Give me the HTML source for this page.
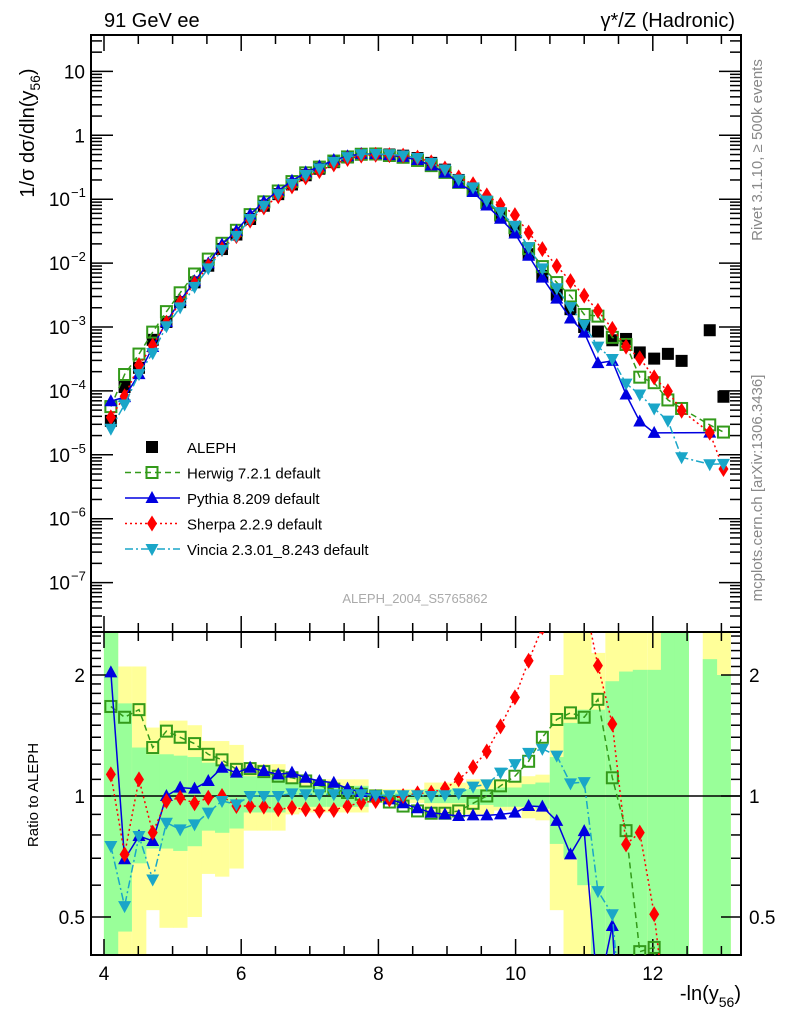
<!DOCTYPE html>
<html><head><meta charset="utf-8">
<style>
html,body{margin:0;padding:0;background:#fff;width:786px;height:1024px;overflow:hidden;}
svg{display:block;font-family:"Liberation Sans",sans-serif;}
</style></head>
<body>
<svg id="chart" width="786" height="1024" viewBox="0 0 786 1024" xmlns="http://www.w3.org/2000/svg">
<defs>
<clipPath id="clipTop"><rect x="91" y="35" width="650" height="597"/></clipPath>
<clipPath id="clipBot"><rect x="91" y="632" width="650" height="323"/></clipPath>
</defs>
<g id="bands" clip-path="url(#clipBot)"></g>
<g id="axes"></g>
<g id="topMarks" clip-path="url(#clipTop)"></g>
<g id="botMarks" clip-path="url(#clipBot)"></g>
<g id="legend"></g>
<text x="104" y="27" font-size="20">91 GeV ee</text>
<text x="735" y="27" font-size="20" text-anchor="end">γ*/Z (Hadronic)</text>
<text transform="translate(34,133) rotate(-90)" font-size="20" text-anchor="middle">1/σ  dσ/dln(y<tspan font-size="14" dy="6">56</tspan><tspan dy="-6">)</tspan></text>
<text transform="translate(762,150) rotate(-90)" font-size="15" fill="#888" text-anchor="middle">Rivet 3.1.10, ≥ 500k events</text>
<text transform="translate(762,488) rotate(-90)" font-size="15" fill="#888" text-anchor="middle">mcplots.cern.ch [arXiv:1306.3436]</text>
<text x="415" y="603" font-size="13" fill="#aaa" text-anchor="middle">ALEPH_2004_S5765862</text>
<text transform="translate(38,795) rotate(-90)" font-size="15" text-anchor="middle">Ratio to ALEPH</text>
<text x="741" y="1000" font-size="20" text-anchor="end">-ln(y<tspan font-size="14" dy="7">56</tspan><tspan dy="-7">)</tspan></text>
</svg>
<script>
const xCenters=[4.10,4.30,4.51,4.71,4.91,5.11,5.32,5.52,5.72,5.93,6.13,6.33,6.54,6.74,6.94,7.14,7.35,7.55,7.75,7.96,8.16,8.36,8.57,8.77,8.97,9.17,9.38,9.58,9.78,9.99,10.19,10.39,10.60,10.80,11.00,11.20,11.41,11.61,11.81,12.02,12.22,12.42,12.63,12.83,13.03];
const aleph=[3.4e-5,1.15e-4,2.3e-4,6.3e-4,1.2e-3,2.45e-3,5.0e-3,9.1e-3,1.66e-2,2.8e-2,4.9e-2,7.9e-2,0.12,0.17,0.237,0.30,0.38,0.45,0.50,0.51,0.50,0.48,0.44,0.37,0.29,0.20,0.145,0.089,0.055,0.032,0.0138,6.3e-3,3.2e-3,1.9e-3,1.0e-3,8.5e-4,6.2e-4,6.5e-4,4.0e-4,3.2e-4,3.8e-4,2.95e-4,null,8.9e-4,8.1e-5];
const herwigRatio=[1.67,1.57,1.64,1.32,1.45,1.40,1.35,1.27,1.23,1.165,1.17,1.15,1.12,1.11,1.09,1.06,1.04,1.02,1.01,1.0,0.966,0.944,0.918,0.906,0.906,0.918,0.959,1.0,1.06,1.12,1.22,1.40,1.55,1.61,1.57,1.74,1.11,0.82,0.41,0.42,0.19,0.18,null,0.033,0.28];
const pythiaRatio=[2.03,0.696,0.795,0.773,1.0,1.049,1.043,1.09,1.176,1.143,1.176,1.154,1.132,1.143,1.11,1.09,1.079,1.043,1.023,1.0,0.981,0.959,0.932,0.909,0.9,0.892,0.895,0.895,0.9,0.909,0.944,0.941,0.867,0.716,0.818,0.32,0.475,0.135,0.083,0.069,null,null,null,0.025,null];
const sherpaRatio=[1.132,0.716,1.10,0.811,0.972,0.99,0.959,0.99,1.0,0.944,0.944,0.941,0.927,0.935,0.927,0.918,0.923,0.944,0.963,0.972,0.981,1.0,1.015,1.019,1.043,1.10,1.18,1.29,1.49,1.76,2.17,2.63,2.82,2.75,3.1,2.11,1.51,0.758,0.811,0.508,0.26,0.166,null,0.025,0.074];
const vinciaRatio=[0.751,0.532,0.795,0.62,0.858,0.826,0.85,0.909,0.972,0.953,1.0,1.0,1.0,1.015,1.01,1.01,1.01,1.01,1.01,1.004,1.004,1.004,1.004,1.0,1.004,1.015,1.055,1.069,1.143,1.2,1.28,1.31,1.26,1.075,1.083,0.58,0.508,0.2,0.22,0.166,0.09,0.031,null,0.008,0.089];
const greenHi=[3,1.7,1.32,1.27,1.27,1.26,1.25,1.21,1.19,1.14,1.12,1.12,1.12,1.08,1.06,1.06,1.06,1.06,1.06,1.02,1.02,1.02,1.02,1.04,1.04,1.04,1.04,1.04,1.05,1.05,1.07,1.08,1.25,1.52,1.64,1.64,1.93,2.04,2.06,2.06,3,3,null,2.19,2.0];
const greenLo=[0.3,0.46,0.68,0.74,0.74,0.73,0.75,0.82,0.81,0.83,0.91,0.91,0.91,0.94,0.94,0.94,0.94,0.94,0.94,0.98,0.98,0.98,0.98,0.96,0.96,0.96,0.95,0.95,0.94,0.94,0.94,0.93,0.76,0.7,0.6,0.3,0.3,0.3,0.3,0.3,0.3,0.3,null,0.3,0.3];
const yellowHi=[3,2.1,2.1,1.48,1.54,1.54,1.5,1.37,1.37,1.34,1.2,1.2,1.2,1.14,1.1,1.1,1.1,1.1,1.1,1.04,1.04,1.04,1.04,1.08,1.08,1.08,1.1,1.1,1.09,1.09,1.12,1.13,2.0,3,3,2.27,3,3,3,3,3,3,null,3,3];
const yellowLo=[0.3,0.4,0.4,0.52,0.47,0.47,0.5,0.64,0.63,0.66,0.82,0.82,0.82,0.9,0.91,0.91,0.91,0.91,0.91,0.96,0.96,0.96,0.96,0.9,0.9,0.9,0.9,0.9,0.92,0.92,0.88,0.87,0.52,0.3,0.3,0.3,0.3,0.3,0.3,0.3,0.3,0.3,null,0.3,0.3];
const topTickLabels=["10","1","10","10","10","10","10","10","10"];
const topTickExps=[1,0,-1,-2,-3,-4,-5,-6,-7];
const xTickLabels=[4,6,8,10,12];
const ratioTickLabels=[2,1,0.5];

const NS="http://www.w3.org/2000/svg";
const binW=0.2029;
function X(v){return 104+(v-4)*68.6;}
function YT(v){return 135.3-63.9*Math.log10(v);}
function YR(r){return 796-121*Math.log2(r);}
function mk(tag,attrs,parent){const e=document.createElementNS(NS,tag);for(const k in attrs)e.setAttribute(k,attrs[k]);parent.appendChild(e);return e;}

const axes=document.getElementById('axes');
let f1=mk('rect',{x:91,y:35,width:650,height:597,fill:'none',stroke:'#000','stroke-width':2},axes);


let f2=mk('rect',{x:91,y:632,width:650,height:323,fill:'none',stroke:'#000','stroke-width':2},axes);


for(let v=4;v<=13.25;v+=0.5){
  const x=X(v);const major=(Math.abs(v%2)<1e-6);const L=major?16:9;
  [[35,1],[632,-1],[632,1],[955,-1]].forEach(([y,d])=>{mk('line',{x1:x,x2:x,y1:y,y2:y+d*L,stroke:'#000','stroke-width':1.5},axes);});
}
xTickLabels.forEach(v=>{const t=mk('text',{x:X(v),y:980,'font-size':19,'text-anchor':'middle'},axes);t.textContent=v;

});
for(let e=-8;e<=1;e++){
  for(let m=1;m<10;m++){
    const v=m*Math.pow(10,e);const y=YT(v);if(y<35||y>632)continue;
    const L=m===1?22:11;
    mk('line',{x1:91,x2:91+L,y1:y,y2:y,stroke:'#000','stroke-width':1.5},axes);
    mk('line',{x1:741,x2:741-L,y1:y,y2:y,stroke:'#000','stroke-width':1.5},axes);
  }
}
topTickExps.forEach((e,i)=>{
  const y=YT(Math.pow(10,e))+7;
  const t=mk('text',{x:e<0?70:85,y:y,'font-size':19,'text-anchor':'end'},axes);
  
  
  t.textContent=topTickLabels[i];
  if(e<0){const s=mk('text',{x:71,y:y-9,'font-size':13},axes);s.textContent='−'+(-e);
  
  }
});
[0.4,0.5,0.6,0.7,0.8,0.9,1,1.1,1.2,1.3,1.4,1.5,1.6,1.7,1.8,1.9,2,2.1,2.2,2.3,2.4,2.5].forEach(r=>{
  const y=YR(r);if(y<632||y>955)return;const major=(r===0.5||r===1||r===2);const L=major?20:10;
  mk('line',{x1:91,x2:91+L,y1:y,y2:y,stroke:'#000','stroke-width':1.5},axes);
  mk('line',{x1:741,x2:741-L,y1:y,y2:y,stroke:'#000','stroke-width':1.5},axes);
});
ratioTickLabels.forEach(r=>{
  const a=mk('text',{x:85,y:YR(r)+7,'font-size':19,'text-anchor':'end'},axes);a.textContent=r;
  
  
  const b=mk('text',{x:749,y:YR(r)+7,'font-size':19},axes);b.textContent=r;
  
  
});

const bands=document.getElementById('bands');
function band(lo,hi,col,name){
  xCenters.forEach((xc,i)=>{
    if(hi[i]==null)return;
    const x0=X(xc-binW/2),x1=X(xc+binW/2);
    const y0=YR(hi[i]),y1=YR(lo[i]);
    const r=mk('rect',{x:x0,y:y0,width:x1-x0+0.4,height:y1-y0,fill:col},bands);
    
    
  });
}
band(yellowLo,yellowHi,'#ffff99','syst-band');
band(greenLo,greenHi,'#99ff99','stat-band');
const one=mk('line',{x1:91,x2:741,y1:YR(1),y2:YR(1),stroke:'#000','stroke-width':1.5},axes);



function marker(type,x,y,col,parent,name){
  let e;
  if(type==='sq')e=mk('rect',{x:x-6,y:y-6,width:12,height:12,fill:col},parent);
  else if(type==='osq')e=mk('rect',{x:x-5.5,y:y-5.5,width:11,height:11,fill:'none',stroke:col,'stroke-width':2},parent);
  else if(type==='tri')e=mk('polygon',{points:`${x},${y-7} ${x-6.5},${y+5} ${x+6.5},${y+5}`,fill:col},parent);
  else if(type==='dia')e=mk('polygon',{points:`${x},${y-8} ${x-5},${y} ${x},${y+8} ${x+5},${y}`,fill:col},parent);
  else e=mk('polygon',{points:`${x},${y+7} ${x-6.5},${y-5} ${x+6.5},${y-5}`,fill:col},parent);
  
  
  return e;
}
const series=[
 {name:'herwig',ratio:herwigRatio,col:'#339a1a',type:'osq',dash:'6,4'},
 {name:'pythia',ratio:pythiaRatio,col:'#0000e0',type:'tri',dash:''},
 {name:'sherpa',ratio:sherpaRatio,col:'#ff0000',type:'dia',dash:'2,3'},
 {name:'vincia',ratio:vinciaRatio,col:'#1aa6c8',type:'dtri',dash:'8,3,2,3'}
];
const topG=document.getElementById('topMarks'),botG=document.getElementById('botMarks');
xCenters.forEach((xc,i)=>{if(aleph[i]==null)return;marker('sq',X(xc),YT(aleph[i]),'#000',topG,'aleph-point');});
series.forEach(s=>{
  const ptsT=[],ptsB=[];
  xCenters.forEach((xc,i)=>{
    const r=s.ratio[i];if(r==null)return;
    ptsB.push([X(xc),YR(r)]);
    if(aleph[i]!=null)ptsT.push([X(xc),YT(aleph[i]*r)]);
  });
  [[ptsT,topG],[ptsB,botG]].forEach(([pts,g])=>{
    const l=mk('polyline',{points:pts.map(p=>p.join(',')).join(' '),fill:'none',stroke:s.col,'stroke-width':1.5,'stroke-dasharray':s.dash},g);
    
    
    pts.forEach(p=>marker(s.type,p[0],p[1],s.col,g,s.name+'-point'));
  });
});

const lg=document.getElementById('legend');
const legendEntries=[
 {label:'ALEPH',type:'sq',col:'#000',dash:null},
 {label:'Herwig 7.2.1 default',type:'osq',col:'#339a1a',dash:'6,4'},
 {label:'Pythia 8.209 default',type:'tri',col:'#0000e0',dash:''},
 {label:'Sherpa 2.2.9 default',type:'dia',col:'#ff0000',dash:'2,3'},
 {label:'Vincia 2.3.01_8.243 default',type:'dtri',col:'#1aa6c8',dash:'8,3,2,3'}
];
legendEntries.forEach((e,i)=>{
  const y=447+i*25.5;
  if(e.dash!==null){const l=mk('line',{x1:125,x2:180,y1:y,y2:y,stroke:e.col,'stroke-width':1.5,'stroke-dasharray':e.dash},lg);
  
  }
  marker(e.type,152,y,e.col,lg,'legend-marker');
  const t=mk('text',{x:187,y:y+6,'font-size':15},lg);t.textContent=e.label;
  
  
});
</script>
</body></html>
